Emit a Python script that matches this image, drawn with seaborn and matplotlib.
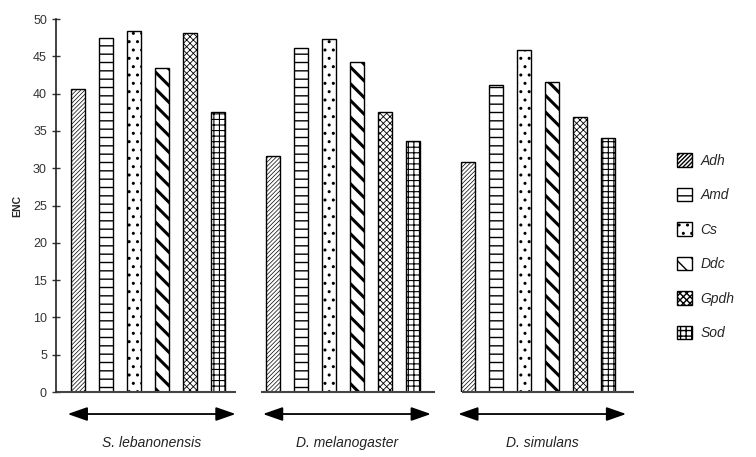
import matplotlib
matplotlib.use("Agg")
import matplotlib.pyplot as plt
import seaborn as sns
import pandas as pd
from matplotlib.patches import Patch

species = ["S. lebanonensis", "D. melanogaster", "D. simulans"]
genes = ["Adh", "Amd", "Cs", "Ddc", "Gpdh", "Sod"]
enc_leb = [40.6, 47.4, 48.4, 43.5, 48.1, 37.5]
enc_mel = [31.7, 46.1, 47.3, 44.2, 37.5, 33.6]
enc_sim = [30.8, 41.1, 45.9, 41.5, 36.8, 34.0]
yticks = [0, 5, 10, 15, 20, 25, 30, 35, 40, 45, 50]

hatches = ["////////", "--", "..", "\\\\", "xxxxx", "+++"]
hatch_lw = [0.5, 1.0, 1.0, 2.2, 0.6, 0.8]

rows = []
for sp, vals in zip(species, [enc_leb, enc_mel, enc_sim]):
    for g, v in zip(genes, vals):
        rows.append({"species": sp, "gene": g, "ENC": v})
df = pd.DataFrame(rows)

sns.set_theme(style="white")
plt.rcParams["font.family"] = ["Liberation Sans", "DejaVu Sans"]

fig = plt.figure(figsize=(7.56, 4.57), dpi=100)
ax = fig.add_axes([0.074, 0.1422, 0.7646, 0.8162])

sns.barplot(data=df, x="species", y="ENC", hue="gene", hue_order=genes,
            palette=["white"] * 6, edgecolor="black", linewidth=1.0,
            width=0.86, gap=0.5, legend=False, ax=ax)

for cont, h, lw in zip(ax.containers, hatches, hatch_lw):
    for bar in cont:
        bar.set_hatch(h)
        if hasattr(bar, "set_hatch_linewidth"):
            bar.set_hatch_linewidth(lw)

ax.set_xlim(-0.47, 2.49)
ax.set_ylim(0, 50)
ax.set_yticks(yticks)
ax.set_yticklabels([str(t) for t in yticks], fontsize=9, color="#333333")
ax.tick_params(axis="y", direction="inout", length=6, width=1, left=True, colors="#333333")
ax.tick_params(axis="y", labelcolor="#333333")
ax.set_xticks([])
ax.set_xlabel("")
ax.set_ylabel("ENC", fontsize=7.5, fontweight="bold", labelpad=8)
for s in ["top", "right", "bottom"]:
    ax.spines[s].set_visible(False)
ax.spines["left"].set_color("#222222")
ax.spines["left"].set_linewidth(1.2)

xt = ax.get_xaxis_transform()
starts = [-0.47, 0.58, 1.61]
ends = [0.45, 1.47, 2.49]
for i, sp in enumerate(species):
    ax.plot([starts[i], ends[i]], [0, 0], color="#444444", lw=1.5,
            clip_on=False, solid_capstyle="butt")
    c = i + 0.02
    ax.annotate("", xy=(c + 0.43, -0.059), xytext=(c - 0.43, -0.059),
                xycoords=xt, textcoords=xt,
                arrowprops=dict(arrowstyle="<|-|>,head_length=1.0,head_width=0.35",
                                color="black", lw=1.3, shrinkA=0, shrinkB=0))
    ax.text(c, -0.137, sp, transform=xt, ha="center", va="center",
            fontsize=10, style="italic", color="#222222")

handles = []
for g, h, lw in zip(genes, hatches, hatch_lw):
    p = Patch(facecolor="white", edgecolor="black", hatch=h, label=g)
    if hasattr(p, "set_hatch_linewidth"):
        p.set_hatch_linewidth(lw)
    handles.append(p)
fig.legend(handles=handles, loc="center left", bbox_to_anchor=(0.888, 0.46),
           frameon=False, prop={"size": 10, "style": "italic"},
           handlelength=1.1, handleheight=1.1, labelspacing=1.45,
           handletextpad=0.6, borderaxespad=0)

fig.savefig("out.png", dpi=100)
